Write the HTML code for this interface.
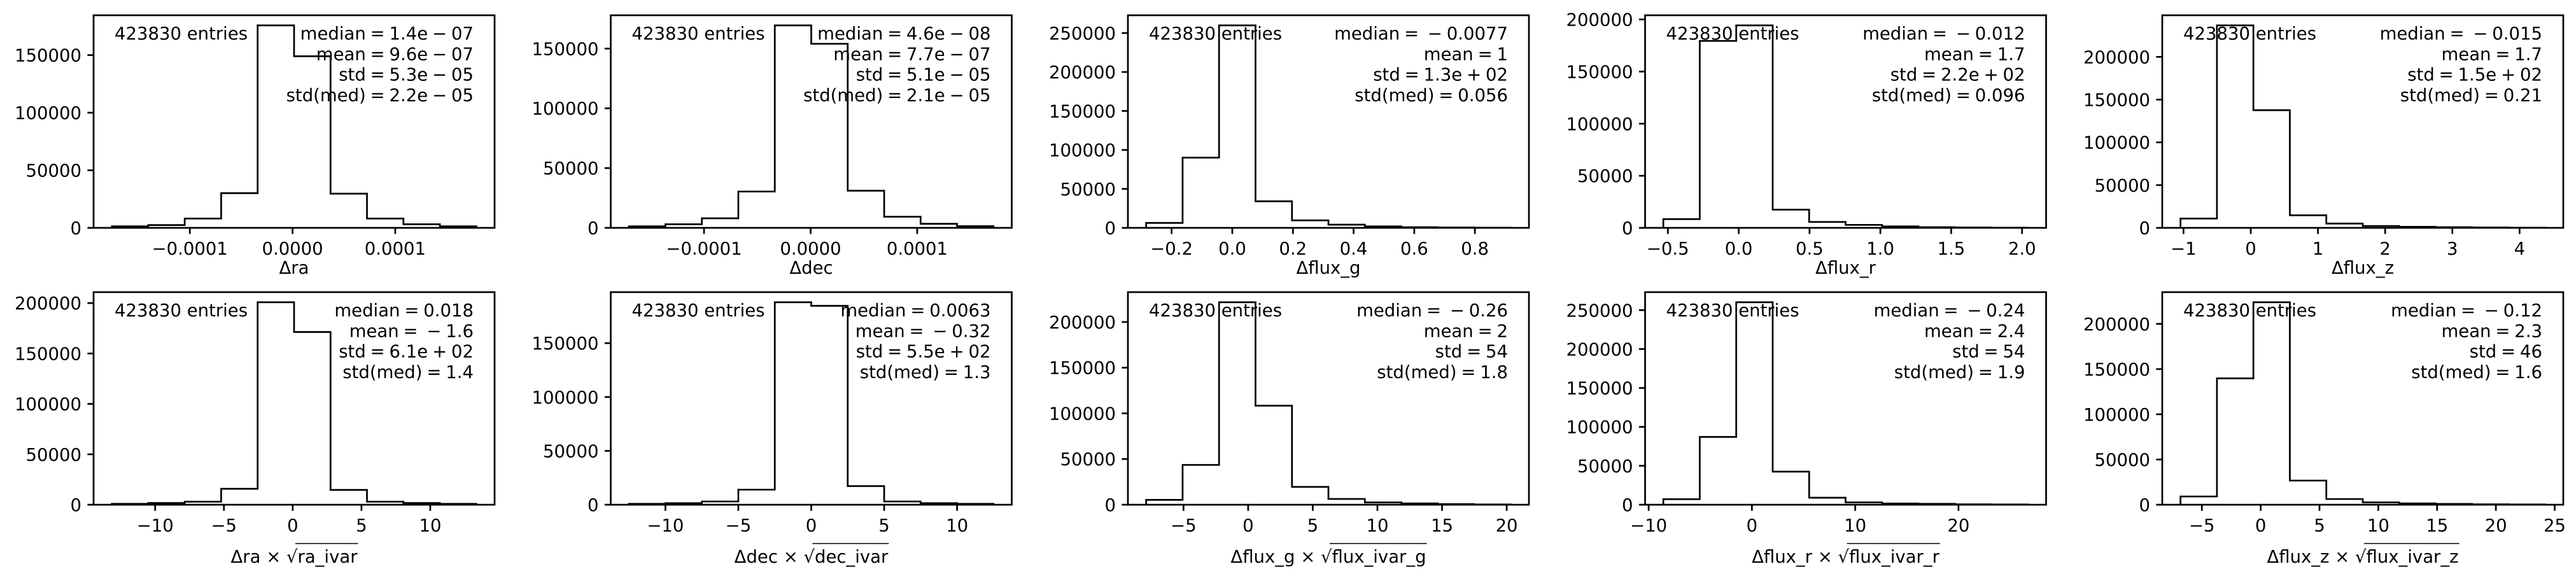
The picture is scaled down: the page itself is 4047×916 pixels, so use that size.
<!DOCTYPE html>
<html><head><meta charset="utf-8"><style>
html,body{margin:0;padding:0;background:#fff;}
svg{display:block;}
text{font-family:"DejaVu Sans","Liberation Sans",sans-serif;fill:#000;}
</style></head>
<body>
<svg id="fig" xmlns="http://www.w3.org/2000/svg" width="4047" height="916" viewBox="0 0 4047 916"></svg>
<script>
// ---- data ----
const raEdges = [-1.76e-4, 0.355e-4];
const raCounts = [1300, 2400, 8100, 30100, 175800, 149000, 29700, 8100, 3100, 1300];
const raTicks = [-0.0001, 0, 0.0001];
const raTickLabels = ["−0.0001", "0.0000", "0.0001"];

const decEdges = [-1.704e-4, 0.342e-4];
const decCounts = [1250, 3000, 8000, 30400, 169400, 154000, 31100, 9300, 3400, 1400];
const decTicks = [-0.0001, 0, 0.0001];
const decTickLabels = ["−0.0001", "0.0000", "0.0001"];

const gEdges = [-0.284, 0.1202];
const gCounts = [6300, 90100, 259800, 34100, 9600, 4100, 1900, 800, 500, 250];
const gTicks = [-0.2, 0, 0.2, 0.4, 0.6, 0.8];
const gTickLabels = ["−0.2", "0.0", "0.2", "0.4", "0.6", "0.8"];

const rEdges = [-0.532, 0.2573];
const rCounts = [8400, 179400, 194300, 17500, 5700, 2850, 1400, 600, 400, 200];
const rTicks = [-0.5, 0, 0.5, 1.0, 1.5, 2.0];
const rTickLabels = ["−0.5", "0.0", "0.5", "1.0", "1.5", "2.0"];

const zEdges = [-1.045, 0.5424];
const zCounts = [10900, 236800, 137600, 14700, 5000, 2200, 1200, 750, 500, 250];
const zTicks = [-1, 0, 1, 2, 3, 4];
const zTickLabels = ["−1", "0", "1", "2", "3", "4"];

const raSigEdges = [-13.15, 2.65];
const raSigCounts = [850, 1700, 3000, 15800, 200800, 171300, 14700, 3000, 1700, 850];
const raSigTicks = [-10, -5, 0, 5, 10];
const raSigTickLabels = ["−10", "−5", "0", "5", "10"];

const decSigEdges = [-12.5, 2.5];
const decSigCounts = [800, 1400, 3000, 14000, 188000, 184700, 17300, 3000, 1400, 800];
const decSigTicks = [-10, -5, 0, 5, 10];
const decSigTickLabels = ["−10", "−5", "0", "5", "10"];

const gSigEdges = [-7.89, 2.82];
const gSigCounts = [5300, 43600, 221600, 108400, 19500, 6300, 2550, 1400, 700, 250];
const gSigTicks = [-5, 0, 5, 10, 15, 20];
const gSigTickLabels = ["−5", "0", "5", "10", "15", "20"];

const rSigEdges = [-8.58, 3.53];
const rSigCounts = [7100, 87100, 260100, 42500, 9000, 3000, 1600, 1100, 500, 300];
const rSigTicks = [-10, 0, 10, 20];
const rSigTickLabels = ["−10", "0", "10", "20"];

const zSigEdges = [-6.82, 3.1];
const zSigCounts = [9100, 139700, 223900, 26700, 6300, 2600, 1400, 900, 500, 250];
const zSigTicks = [-5, 0, 5, 10, 15, 20, 25];
const zSigTickLabels = ["−5", "0", "5", "10", "15", "20", "25"];

const statsRa = ["median = 1.4e − 07", "mean = 9.6e − 07", "std = 5.3e − 05", "std(med) = 2.2e − 05"];
const statsDec = ["median = 4.6e − 08", "mean = 7.7e − 07", "std = 5.1e − 05", "std(med) = 2.1e − 05"];
const statsG = ["median =  − 0.0077", "mean = 1", "std = 1.3e + 02", "std(med) = 0.056"];
const statsR = ["median =  − 0.012", "mean = 1.7", "std = 2.2e + 02", "std(med) = 0.096"];
const statsZ = ["median =  − 0.015", "mean = 1.7", "std = 1.5e + 02", "std(med) = 0.21"];
const statsRaSig = ["median = 0.018", "mean =  − 1.6", "std = 6.1e + 02", "std(med) = 1.4"];
const statsDecSig = ["median = 0.0063", "mean =  − 0.32", "std = 5.5e + 02", "std(med) = 1.3"];
const statsGSig = ["median =  − 0.26", "mean = 2", "std = 54", "std(med) = 1.8"];
const statsRSig = ["median =  − 0.24", "mean = 2.4", "std = 54", "std(med) = 1.9"];
const statsZSig = ["median =  − 0.12", "mean = 2.3", "std = 46", "std(med) = 1.6"];

const entriesLabel = "423830 entries";

const panels = [
  {name:"ra", edges:raEdges, counts:raCounts, ticks:raTicks, labels:raTickLabels, stats:statsRa, xl:["Δra"]},
  {name:"dec", edges:decEdges, counts:decCounts, ticks:decTicks, labels:decTickLabels, stats:statsDec, xl:["Δdec"]},
  {name:"flux-g", edges:gEdges, counts:gCounts, ticks:gTicks, labels:gTickLabels, stats:statsG, xl:["Δflux_g"]},
  {name:"flux-r", edges:rEdges, counts:rCounts, ticks:rTicks, labels:rTickLabels, stats:statsR, xl:["Δflux_r"]},
  {name:"flux-z", edges:zEdges, counts:zCounts, ticks:zTicks, labels:zTickLabels, stats:statsZ, xl:["Δflux_z"]},
  {name:"ra-sig", edges:raSigEdges, counts:raSigCounts, ticks:raSigTicks, labels:raSigTickLabels, stats:statsRaSig, xl:["Δra × ","ra_ivar"]},
  {name:"dec-sig", edges:decSigEdges, counts:decSigCounts, ticks:decSigTicks, labels:decSigTickLabels, stats:statsDecSig, xl:["Δdec × ","dec_ivar"]},
  {name:"flux-g-sig", edges:gSigEdges, counts:gSigCounts, ticks:gSigTicks, labels:gSigTickLabels, stats:statsGSig, xl:["Δflux_g × ","flux_ivar_g"]},
  {name:"flux-r-sig", edges:rSigEdges, counts:rSigCounts, ticks:rSigTicks, labels:rSigTickLabels, stats:statsRSig, xl:["Δflux_r × ","flux_ivar_r"]},
  {name:"flux-z-sig", edges:zSigEdges, counts:zSigCounts, ticks:zSigTicks, labels:zSigTickLabels, stats:statsZSig, xl:["Δflux_z × ","flux_ivar_z"]}
];

// ---- rendering ----
const NS = "http://www.w3.org/2000/svg";
const svg = document.getElementById('fig');
const FS = 27.5, LW = 2.7, AW = 630, AH = 334;
function mk(tag, attrs, parent){
  const e = document.createElementNS(NS, tag);
  for (const k in attrs) e.setAttribute(k, attrs[k]);
  (parent||svg).appendChild(e);
  return e;
}
panels.forEach((p, i) => {
  const col = i % 5, row = Math.floor(i / 5);
  const L = 147 + 812.5 * col, T = row === 0 ? 24 : 459, B = T + AH, R = L + AW;
  const g = mk('g', {});
  
  
  const n = p.counts.length;
  const x0 = p.edges[0], w = p.edges[1], x1 = x0 + w * n;
  const xmin = x0 - 0.05 * (x1 - x0), xmax = x1 + 0.05 * (x1 - x0);
  const ymax = Math.max(...p.counts) * 1.05;
  const X = v => L + (v - xmin) / (xmax - xmin) * AW;
  const Y = v => B - v / ymax * AH;
  let d = 'M' + X(x0) + ',' + Y(0);
  p.counts.forEach((c, k) => {
    d += ' L' + X(x0 + k * w) + ',' + Y(c) + ' L' + X(x0 + (k + 1) * w) + ',' + Y(c);
  });
  d += ' L' + X(x1) + ',' + Y(0);
  const hist = mk('path', {d: d, fill: 'none', stroke: '#000', 'stroke-width': LW, 'stroke-linejoin': 'miter'}, g);
  
  
  const fr = mk('rect', {x: L, y: T, width: AW, height: AH, fill: 'none', stroke: '#000', 'stroke-width': LW}, g);
  
  
  for (let v = 0; v <= ymax; v += 50000) {
    const y = Y(v);
    mk('line', {x1: L, x2: L - 9.6, y1: y, y2: y, stroke: '#000', 'stroke-width': LW}, g);
    const t = mk('text', {x: L - 19, y: y + 10, 'text-anchor': 'end', 'font-size': FS}, g);
    
    
    t.textContent = String(v);
  }
  p.ticks.forEach((v, k) => {
    const x = X(v);
    mk('line', {x1: x, x2: x, y1: B, y2: B + 9.6, stroke: '#000', 'stroke-width': LW}, g);
    const t = mk('text', {x: x, y: B + 42, 'text-anchor': 'middle', 'font-size': FS}, g);
    
    
    t.textContent = p.labels[k];
  });
  const en = mk('text', {x: L + 33, y: T + 38, 'font-size': FS}, g);
  
  
  en.textContent = entriesLabel;
  p.stats.forEach((s, k) => {
    const t = mk('text', {x: R - 33, y: T + 38 + k * 32.3, 'text-anchor': 'end', 'font-size': FS}, g);
    
    
    t.textContent = s.replace(/ /g, '\u2005');
  });
  const cx = L + AW / 2;
  if (p.xl.length === 1) {
    const t = mk('text', {x: cx, y: B + 72, 'text-anchor': 'middle', 'font-size': FS}, g);
    
    
    t.textContent = p.xl[0];
  } else {
    const full = p.xl[0] + '√' + p.xl[1];
    const t = mk('text', {x: cx, y: B + 91, 'text-anchor': 'middle', 'font-size': FS}, g);
    
    
    t.textContent = full;
    const si = p.xl[0].length + 1, ei = full.length - 1;
    try {
      const s = t.getStartPositionOfChar(si - 1).x + 14;
      const e = t.getEndPositionOfChar(ei).x + 1;
      mk('line', {x1: s, x2: e, y1: B + 61, y2: B + 61, stroke: '#000', 'stroke-width': 1.6}, g);
    } catch (err) {}
  }
});
</script>
</body></html>
